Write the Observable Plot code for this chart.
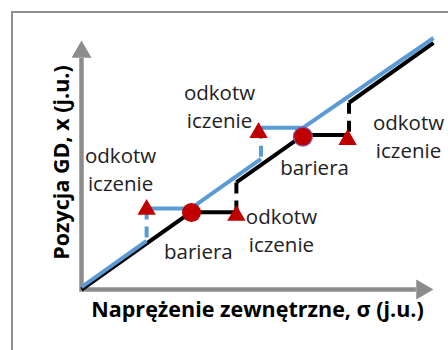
<!DOCTYPE html>
<html>
<head>
<meta charset="utf-8">
<script src="https://cdn.jsdelivr.net/npm/d3@7"></script>
<script src="https://cdn.jsdelivr.net/npm/@observablehq/plot@0.6"></script>
<style>
  html, body { margin: 0; padding: 0; background: #fff; overflow: hidden; }
  #wrap { position: relative; width: 448px; height: 350px; }
  #frame { position: absolute; left: 11px; top: 11px; width: 600px; height: 600px;
           border-left: 2.5px solid #8e8e8e; border-top: 2.5px solid #8e8e8e; }
  #chart { position: absolute; left: 0; top: 0; }
</style>
</head>
<body>
<div id="wrap"><div id="frame"></div><div id="chart"></div></div>
<script>
// Black path: stress σ vs position x
const blackSigma = [0, 31, 44, 44, 63, 76, 76, 100];
const blackX     = [0, 31, 31, 43, 62, 62, 75, 99];
// Blue path
const blueSigma = [0, 18.5, 18.5, 31, 51, 51, 63, 100];
const blueX     = [1, 19.5, 32.5, 32.5, 52.5, 65, 65, 101];
// Barriers (circles)
const barrierSigma = [31.25, 62.9];
const barrierX     = [30.9, 61.4];
const barrierEdge  = ["none", "#7a5ca6"];
// Unpinning points (triangles)
const unpinSigma = [18.5, 44, 50.3, 75.6];
const unpinX     = [32.1, 29.7, 63, 60.2];
// Text labels
const labelText  = ["odkotw\niczenie", "odkotw\niczenie", "odkotw\niczenie", "odkotw\niczenie", "bariera", "bariera"];
const labelSigma = [11.1, 39.2, 92.9, 56.8, 33.2, 66.2];
const labelX     = [48.8, 74.0, 62.0, 24.3, 15.9, 49.4];
// Axes
const axisTip = 100;
const xShaftEnd = 95;
const yShaftEnd = 93;
const xTitle = "Naprężenie zewnętrzne, σ (j.u.)";
const yTitle = "Pozycja GD, x (j.u.)";

function split(sig, xs, series) {
  const solid = [], dashed = [];
  let run = 0;
  for (let i = 0; i < sig.length; i++) {
    if (i > 0 && sig[i] === sig[i - 1]) {
      run++;
      const top = Math.max(xs[i], xs[i - 1]), bot = Math.min(xs[i], xs[i - 1]);
      dashed.push({series, x1: sig[i], y1: top, x2: sig[i], y2: bot});
    }
    solid.push({series, run: series + run, s: sig[i], v: xs[i]});
  }
  return {solid, dashed};
}
const black = split(blackSigma, blackX, "black");
const blue = split(blueSigma, blueX, "blue");

const RED = "#c00000", BLUE = "#5b9bd5", GRAY = "#8c8c8c";
const barriers = barrierSigma.map((s, i) => ({s, v: barrierX[i], edge: barrierEdge[i]}));
const unpins = unpinSigma.map((s, i) => ({s, v: unpinX[i]}));
const labels = labelText.map((t, i) => ({t, s: labelSigma[i], v: labelX[i]}));

const chart = Plot.plot({
  width: 448,
  height: 350,
  marginLeft: 81,
  marginRight: 15,
  marginTop: 40,
  marginBottom: 61,
  x: {domain: [0, 100], axis: null},
  y: {domain: [0, 100], axis: null},
  style: {overflow: "visible", background: "transparent"},
  marks: [
    // axis shafts
    Plot.link([{x1: 0, y1: 0, x2: xShaftEnd, y2: 0}], {x1: "x1", y1: "y1", x2: "x2", y2: "y2", stroke: GRAY, strokeWidth: 4.5}),
    Plot.link([{x1: 0, y1: -0.9, x2: 0, y2: yShaftEnd}], {x1: "x1", y1: "y1", x2: "x2", y2: "y2", stroke: GRAY, strokeWidth: 4.5}),
    // arrowheads
    Plot.dot([{x: axisTip, y: 0}], {x: "x", y: "y", symbol: "triangle", r: 7.4, rotate: 90, dx: -11.5, fill: GRAY, stroke: "none"}),
    Plot.dot([{x: 0, y: axisTip}], {x: "x", y: "y", symbol: "triangle", r: 7.4, dy: 11.5, fill: GRAY, stroke: "none"}),
    // black path
    Plot.line(black.solid, {x: "s", y: "v", z: "run", stroke: "#000", strokeWidth: 4, strokeLinejoin: "miter", strokeLinecap: "butt"}),
    Plot.link(black.dashed, {x1: "x1", y1: "y1", x2: "x2", y2: "y2", stroke: "#000", strokeWidth: 4, strokeDasharray: "11,7"}),
    // blue path
    Plot.line(blue.solid, {x: "s", y: "v", z: "run", stroke: BLUE, strokeWidth: 4, strokeLinejoin: "miter", strokeLinecap: "butt"}),
    Plot.link(blue.dashed, {x1: "x1", y1: "y1", x2: "x2", y2: "y2", stroke: BLUE, strokeWidth: 4, strokeDasharray: "11,7"}),
    // barriers
    Plot.dot(barriers, {x: "s", y: "v", r: 9.5, fill: RED, stroke: "edge", strokeWidth: 1.2}),
    // unpinning triangles
    Plot.dot(unpins, {x: "s", y: "v", symbol: "triangle", r: 6.8, fill: RED, stroke: "none"}),
    // labels
    Plot.text(labels, {x: "s", y: "v", text: "t", fontSize: 20.5, lineHeight: 1.34, fill: "#222", fontFamily: "Open Sans", lineAnchor: "middle"}),
    // axis titles
    Plot.text([xTitle], {frameAnchor: "bottom", textAnchor: "middle", dy: 21, fontSize: 21.5, fontWeight: "bold", fontFamily: "Open Sans", fill: "#000", lineAnchor: "middle"}),
    Plot.text([yTitle], {frameAnchor: "left", textAnchor: "middle", dx: -19, dy: -2.5, rotate: -90, fontSize: 21.5, fontWeight: "bold", fontFamily: "Open Sans", fill: "#000", lineAnchor: "middle"})
  ]
});
document.getElementById("chart").appendChild(chart);
</script>
</body>
</html>
